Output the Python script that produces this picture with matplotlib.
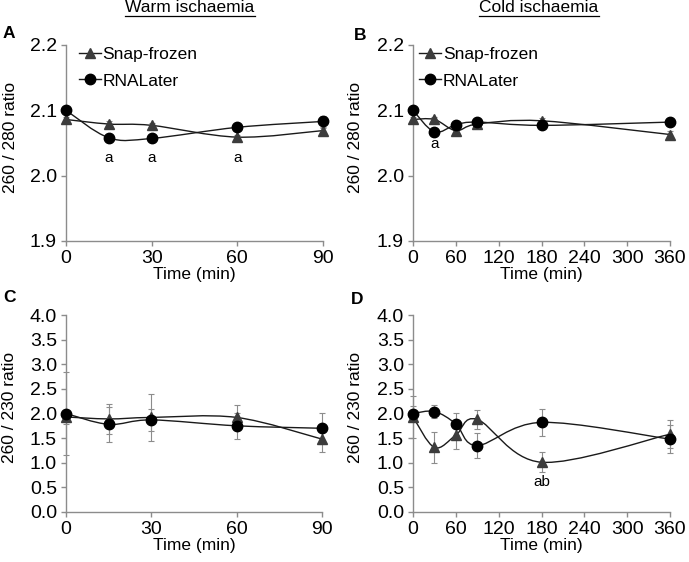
import numpy as np
import matplotlib
matplotlib.use('Agg')
import matplotlib.pyplot as plt
from matplotlib.path import Path
from matplotlib.patches import PathPatch
from matplotlib.lines import Line2D

plt.rcParams['font.family'] = ['Liberation Sans', 'DejaVu Sans']

# time points (min)
x_warm = [0, 15, 30, 60, 90]
x_cold = [0, 30, 60, 90, 180, 360]

# 260/280 ratio
warm_280_snap = [2.086, 2.079, 2.077, 2.059, 2.069]
warm_280_snap_err = [0.004, 0.004, 0.004, 0.004, 0.004]
warm_280_rna = [2.100, 2.058, 2.057, 2.074, 2.083]
warm_280_rna_err = [0.004, 0.004, 0.006, 0.004, 0.008]
cold_280_snap = [2.086, 2.086, 2.069, 2.079, 2.084, 2.063]
cold_280_snap_err = [0.004, 0.004, 0.004, 0.004, 0.004, 0.005]
cold_280_rna = [2.100, 2.067, 2.078, 2.082, 2.077, 2.082]
cold_280_rna_err = [0.004, 0.004, 0.004, 0.004, 0.004, 0.004]

# 260/230 ratio
warm_230_snap = [1.93, 1.89, 1.92, 1.92, 1.48]
warm_230_snap_err = [0.15, 0.30, 0.47, 0.25, 0.26]
warm_230_rna = [2.00, 1.78, 1.87, 1.75, 1.70]
warm_230_rna_err = [0.85, 0.35, 0.23, 0.27, 0.32]
cold_230_snap = [1.93, 1.31, 1.56, 1.88, 1.01, 1.58]
cold_230_snap_err = [0.42, 0.31, 0.28, 0.20, 0.20, 0.29]
cold_230_rna = [2.00, 2.04, 1.79, 1.35, 1.82, 1.48]
cold_230_rna_err = [0.15, 0.14, 0.23, 0.26, 0.28, 0.28]

# significance letters: (x, y, text)
warm_280_marks = [(15, 2.027, 'a'), (30, 2.027, 'a'), (60, 2.027, 'a')]
cold_280_marks = [(30, 2.049, 'a')]
cold_230_marks = [(180, 0.61, 'ab')]

W, H = 689, 562
LINE_C = '#1a1a1a'
TRI_C = '#3c3c3c'
GRID_C = '#8c8c8c'


def smooth_path(x, y):
    '''Excel-like smoothed line through the points (cubic Bezier).'''
    pts = np.column_stack([x, y]).astype(float)
    n = len(pts)
    verts = [pts[0]]
    codes = [Path.MOVETO]
    for i in range(n - 1):
        p0 = pts[max(i - 1, 0)]
        p1 = pts[i]
        p2 = pts[i + 1]
        p3 = pts[min(i + 2, n - 1)]
        verts += [p1 + (p2 - p0) / 6., p2 - (p3 - p1) / 6., p2]
        codes += [Path.CURVE4] * 3
    return Path(verts, codes)


def px_axes(fig, x0, x1, y_top, y_bot):
    return fig.add_axes([x0 / W, 1 - y_bot / H, (x1 - x0) / W,
                         (y_bot - y_top) / H])


def draw_panel(ax, x, snap, snap_err, rna, rna_err, xticks, ylim, yticks,
               ylabel, marks):
    for s_y, s_e in ((snap, snap_err), (rna, rna_err)):
        ax.errorbar(x, s_y, yerr=s_e, fmt='none', ecolor=GRID_C,
                    elinewidth=0.8, capsize=2, capthick=0.8, clip_on=False,
                    zorder=2)
        ax.add_patch(PathPatch(smooth_path(x, s_y), facecolor='none',
                               edgecolor=LINE_C, lw=1.0, clip_on=False,
                               zorder=3))
    ax.plot(x, snap, linestyle='none', marker='^', ms=7.5, color=TRI_C,
            clip_on=False, zorder=4)
    ax.plot(x, rna, linestyle='none', marker='o', ms=7.5, color='black',
            clip_on=False, zorder=5)
    for f_x, f_y, s_txt in marks:
        ax.text(f_x, f_y, s_txt, ha='center', va='center', fontsize=11)

    ax.set_xlim(xticks[0], xticks[-1])
    ax.set_xticks(xticks)
    ax.set_ylim(*ylim)
    ax.set_yticks(yticks)
    ax.set_yticklabels(['{:.1f}'.format(v) for v in yticks])
    for s in ('top', 'right'):
        ax.spines[s].set_visible(False)
    for s in ('left', 'bottom'):
        ax.spines[s].set_color(GRID_C)
        ax.spines[s].set_linewidth(1.0)
    ax.tick_params(direction='out', length=3.5, width=1.0, color=GRID_C,
                   labelsize=14, pad=3)
    ax.set_xlabel('Time (min)', fontsize=12.5, labelpad=0)
    ax.set_ylabel(ylabel, fontsize=12.5)


fig = plt.figure(figsize=(W / 100., H / 100.), dpi=100)

ax_a = px_axes(fig, 66, 323, 45, 241)
ax_b = px_axes(fig, 413, 670, 45, 241)
ax_c = px_axes(fig, 66, 322, 315, 512)
ax_d = px_axes(fig, 413, 670, 315, 512)

y280 = [1.9, 2.0, 2.1, 2.2]
y230 = list(np.arange(0, 4.01, 0.5))

draw_panel(ax_a, x_warm, warm_280_snap, warm_280_snap_err, warm_280_rna,
           warm_280_rna_err, [0, 30, 60, 90], (1.9, 2.2), y280,
           '260 / 280 ratio', warm_280_marks)
draw_panel(ax_b, x_cold, cold_280_snap, cold_280_snap_err, cold_280_rna,
           cold_280_rna_err, list(range(0, 361, 60)), (1.9, 2.2), y280,
           '260 / 280 ratio', cold_280_marks)
draw_panel(ax_c, x_warm, warm_230_snap, warm_230_snap_err, warm_230_rna,
           warm_230_rna_err, [0, 30, 60, 90], (0, 4), y230,
           '260 / 230 ratio', [])
draw_panel(ax_d, x_cold, cold_230_snap, cold_230_snap_err, cold_230_rna,
           cold_230_rna_err, list(range(0, 361, 60)), (0, 4), y230,
           '260 / 230 ratio', cold_230_marks)

# y-label right edge (pixels)
for ax, x_px in ((ax_a, 18), (ax_b, 363), (ax_c, 17), (ax_d, 363)):
    bb = ax.get_position()
    f_x = (x_px / W - bb.x0) / bb.width
    ax.yaxis.set_label_coords(f_x, 0.53)

# legends
l_handles = [Line2D([], [], color=LINE_C, lw=1.0, marker='^', ms=7.5,
                    mfc=TRI_C, mec=TRI_C),
             Line2D([], [], color=LINE_C, lw=1.0, marker='o', ms=7.5,
                    mfc='black', mec='black')]
for ax, f_x in ((ax_a, 0.05), (ax_b, 0.025)):
    ax.legend(l_handles, ['Snap-frozen', 'RNALater'], loc='upper left',
              bbox_to_anchor=(f_x, 0.99), frameon=False, fontsize=12.5,
              handlelength=1.25, handletextpad=0.1, labelspacing=0.65,
              borderpad=0, borderaxespad=0)

# panel letters
for s_l, x_px, y_px in (('A', 9, 33), ('B', 360, 35), ('C', 10, 298),
                        ('D', 357, 299)):
    fig.text(x_px / W, 1 - y_px / H, s_l, ha='center', va='center',
             fontsize=12.5, weight='bold')

# underlined column titles
l_titles = []
for s_t, x_px in (('Warm ischaemia', 190), ('Cold ischaemia', 539)):
    l_titles.append(fig.text(x_px / W, 1 - 8 / H, s_t, ha='center',
                             va='center', fontsize=12.5))
fig.canvas.draw()
renderer = fig.canvas.get_renderer()
for t in l_titles:
    bb = t.get_window_extent(renderer)
    y_line = (bb.y0 - 0.5) / H
    fig.add_artist(Line2D([bb.x0 / W, bb.x1 / W], [y_line, y_line],
                          color='black', lw=0.9,
                          transform=fig.transFigure))

fig.savefig('out.png', dpi=100)
